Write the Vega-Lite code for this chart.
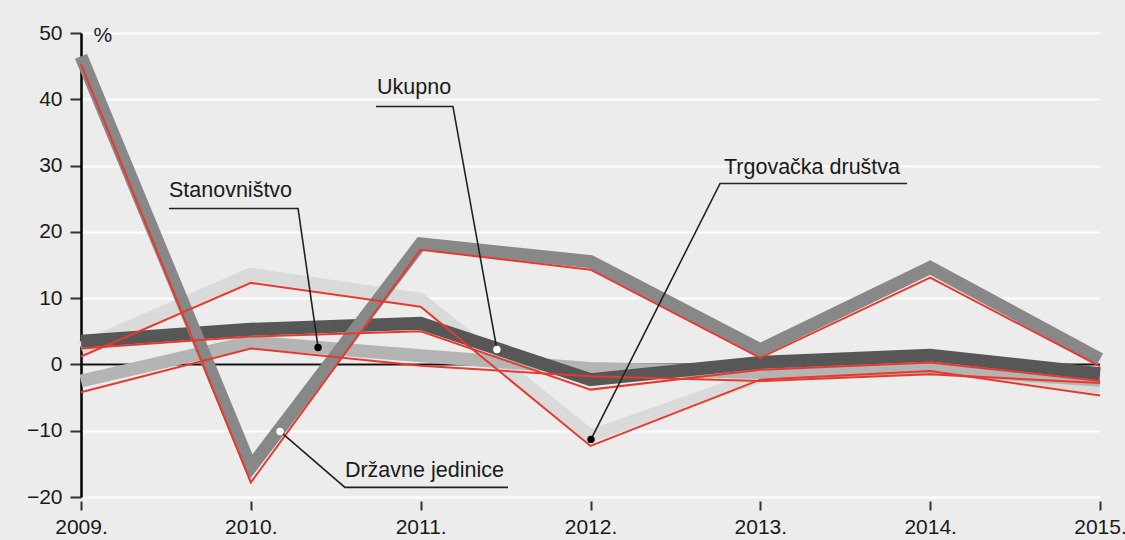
{
  "$schema": "https://vega.github.io/schema/vega-lite/v6.json",
  "width": 1019,
  "height": 464,
  "autosize": {"type": "none"},
  "padding": {"left": 81, "top": 33, "right": 25, "bottom": 43},
  "background": "#ececec",
  "config": {"view": {"stroke": null}, "font": "Liberation Sans"},
  "datasets": {
    "series": [
      {"year": 2009, "s": "Trgovačka društva", "v": 2.5, "r": 1.2},
      {"year": 2010, "s": "Trgovačka društva", "v": 13.6, "r": 12.3},
      {"year": 2011, "s": "Trgovačka društva", "v": 9.8, "r": 8.7},
      {"year": 2012, "s": "Trgovačka društva", "v": -10.8, "r": -12.3},
      {"year": 2013, "s": "Trgovačka društva", "v": -1.8, "r": -2.3},
      {"year": 2014, "s": "Trgovačka društva", "v": 0, "r": -1.0},
      {"year": 2015, "s": "Trgovačka društva", "v": -3.5, "r": -4.7},
      {"year": 2009, "s": "Stanovništvo", "v": -2.5, "r": -4.2},
      {"year": 2010, "s": "Stanovništvo", "v": 3.4, "r": 2.4},
      {"year": 2011, "s": "Stanovništvo", "v": 1.3, "r": -0.2},
      {"year": 2012, "s": "Stanovništvo", "v": -0.6, "r": -1.8},
      {"year": 2013, "s": "Stanovništvo", "v": -1.2, "r": -2.5},
      {"year": 2014, "s": "Stanovništvo", "v": -0.6, "r": -1.5},
      {"year": 2015, "s": "Stanovništvo", "v": -2.4, "r": -2.8},
      {"year": 2009, "s": "Ukupno", "v": 3.5, "r": 2.4},
      {"year": 2010, "s": "Ukupno", "v": 5.3, "r": 4.2},
      {"year": 2011, "s": "Ukupno", "v": 6.2, "r": 5.0},
      {"year": 2012, "s": "Ukupno", "v": -2.3, "r": -3.8},
      {"year": 2013, "s": "Ukupno", "v": 0.3, "r": -0.8},
      {"year": 2014, "s": "Ukupno", "v": 1.4, "r": 0.3},
      {"year": 2015, "s": "Ukupno", "v": -1.4, "r": -2.5},
      {"year": 2009, "s": "Državne jedinice", "v": 46.5, "r": 45.3},
      {"year": 2010, "s": "Državne jedinice", "v": -15.5, "r": -17.8},
      {"year": 2011, "s": "Državne jedinice", "v": 18.2, "r": 17.3},
      {"year": 2012, "s": "Državne jedinice", "v": 15.5, "r": 14.3},
      {"year": 2013, "s": "Državne jedinice", "v": 2.2, "r": 1.0},
      {"year": 2014, "s": "Državne jedinice", "v": 14.6, "r": 13.1},
      {"year": 2015, "s": "Državne jedinice", "v": 0.8, "r": -0.3}
    ],
    "leaders": [
      {"label": "Stanovništvo", "i": 1, "x": 2009.518, "y": 23.53},
      {"label": "Stanovništvo", "i": 2, "x": 2010.278, "y": 23.53},
      {"label": "Stanovništvo", "i": 3, "x": 2010.396, "y": 2.56},
      {"label": "Ukupno", "i": 1, "x": 2010.737, "y": 38.92},
      {"label": "Ukupno", "i": 2, "x": 2011.19, "y": 38.92},
      {"label": "Ukupno", "i": 3, "x": 2011.449, "y": 2.26},
      {"label": "Trgovačka društva", "i": 1, "x": 2013.864, "y": 27.3},
      {"label": "Trgovačka društva", "i": 2, "x": 2012.763, "y": 27.3},
      {"label": "Trgovačka društva", "i": 3, "x": 2012.003, "y": -11.31},
      {"label": "Državne jedinice", "i": 1, "x": 2011.514, "y": -18.55},
      {"label": "Državne jedinice", "i": 2, "x": 2010.554, "y": -18.55},
      {"label": "Državne jedinice", "i": 3, "x": 2010.172, "y": -10.11}
    ],
    "labels": [
      {"label": "Stanovništvo", "x": 2009.518, "y": 25.19, "dot": "black", "dx": 2010.396, "dy": 2.56},
      {"label": "Ukupno", "x": 2010.743, "y": 40.73, "dot": "white", "dx": 2011.449, "dy": 2.26},
      {"label": "Trgovačka društva", "x": 2012.786, "y": 28.66, "dot": "black", "dx": 2012.003, "dy": -11.31},
      {"label": "Državne jedinice", "x": 2010.554, "y": -17.05, "dot": "white", "dx": 2010.172, "dy": -10.11}
    ]
  },
  "layer": [
    {
      "data": {"values": [{"z": 0}]},
      "mark": {"type": "rule", "color": "#111111", "strokeWidth": 2},
      "encoding": {
        "y": {"field": "z", "type": "quantitative", "scale": {"domain": [-20, 50], "nice": false}}
      }
    },
    {
      "data": {"name": "series"},
      "mark": {"type": "line", "strokeWidth": 13},
      "encoding": {
        "x": {
          "field": "year", "type": "quantitative",
          "scale": {"domain": [2009, 2015], "nice": false, "zero": false},
          "axis": {
            "title": null, "values": [2009, 2010, 2011, 2012, 2013, 2014, 2015],
            "labelExpr": "format(datum.value, 'd') + '.'",
            "domain": false, "grid": false, "offset": 4,
            "tickSize": 9, "tickWidth": 2, "tickColor": "#333333",
            "labelFontSize": 21, "labelColor": "#1a1a1a", "labelPadding": 6,
            "labelFlush": false, "labelOverlap": false
          }
        },
        "y": {
          "field": "v", "type": "quantitative",
          "scale": {"domain": [-20, 50], "nice": false},
          "axis": {
            "title": "%", "titleAngle": 0, "titleX": 12, "titleY": 2,
            "titleAlign": "left", "titleBaseline": "middle",
            "titleFontSize": 21, "titleFontWeight": "normal", "titleColor": "#1a1a1a",
            "values": [-20, -10, 0, 10, 20, 30, 40, 50],
            "domain": true, "domainColor": "#000000", "domainWidth": 2.5,
            "tickSize": 11, "tickWidth": 2, "tickColor": "#333333",
            "grid": true, "gridColor": "#ffffff", "gridWidth": 2,
            "labelFontSize": 21, "labelColor": "#1a1a1a", "labelPadding": 8,
            "labelFlush": false, "labelOverlap": false
          }
        },
        "color": {
          "field": "s", "type": "nominal", "legend": null,
          "scale": {
            "domain": ["Trgovačka društva", "Stanovništvo", "Ukupno", "Državne jedinice"],
            "range": ["#dadada", "#b4b4b4", "#575757", "#888888"]
          }
        }
      }
    },
    {
      "data": {"name": "series"},
      "mark": {"type": "line", "strokeWidth": 2, "color": "#e63a2e"},
      "encoding": {
        "x": {"field": "year", "type": "quantitative", "scale": {"domain": [2009, 2015], "nice": false, "zero": false}},
        "y": {"field": "r", "type": "quantitative", "scale": {"domain": [-20, 50], "nice": false}},
        "detail": {"field": "s", "type": "nominal"}
      }
    },
    {
      "data": {"name": "leaders"},
      "mark": {"type": "line", "strokeWidth": 1.6, "color": "#222222", "strokeJoin": "miter"},
      "encoding": {
        "x": {"field": "x", "type": "quantitative", "scale": {"domain": [2009, 2015], "nice": false, "zero": false}},
        "y": {"field": "y", "type": "quantitative", "scale": {"domain": [-20, 50], "nice": false}},
        "detail": {"field": "label", "type": "nominal"},
        "order": {"field": "i", "type": "quantitative"}
      }
    },
    {
      "data": {"name": "labels"},
      "mark": {"type": "point", "filled": true, "size": 55, "opacity": 1},
      "encoding": {
        "x": {"field": "dx", "type": "quantitative", "scale": {"domain": [2009, 2015], "nice": false, "zero": false}},
        "y": {"field": "dy", "type": "quantitative", "scale": {"domain": [-20, 50], "nice": false}},
        "fill": {"field": "dot", "type": "nominal", "scale": null}
      }
    },
    {
      "data": {"name": "labels"},
      "mark": {"type": "text", "align": "left", "baseline": "alphabetic", "fontSize": 21.5, "color": "#1a1a1a"},
      "encoding": {
        "x": {"field": "x", "type": "quantitative", "scale": {"domain": [2009, 2015], "nice": false, "zero": false}},
        "y": {"field": "y", "type": "quantitative", "scale": {"domain": [-20, 50], "nice": false}},
        "text": {"field": "label", "type": "nominal"}
      }
    }
  ]
}
